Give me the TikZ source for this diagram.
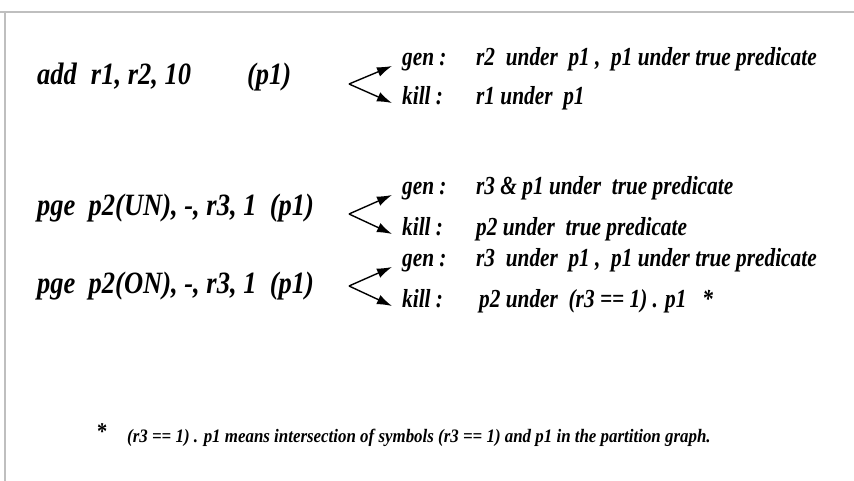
\documentclass[tikz,border=0pt]{standalone}
\usepackage{fontspec}
\setmainfont{Liberation Serif}[FakeStretch=0.85]
\newfontfamily\instrfont{Liberation Serif}[FakeStretch=0.855]
\newfontfamily\genfont{Liberation Serif}[FakeStretch=0.82]
\newfontfamily\notefont{Liberation Serif}[FakeStretch=0.89]
\usetikzlibrary{arrows.meta,positioning}

\tikzset{
  instr/.style={font=\instrfont\fontsize{31}{33}\selectfont\bfseries\itshape, inner sep=0pt, anchor=mid west},
  txt/.style={font=\genfont\fontsize{26}{28}\selectfont\bfseries\itshape, inner sep=0pt, anchor=mid west},
  note/.style={font=\notefont\fontsize{19}{21}\selectfont\bfseries\itshape, inner sep=0pt, anchor=mid west},
  split/.style={-{Latex[length=15pt,width=10pt]}, line width=1.4pt}
}

\begin{document}
\begin{tikzpicture}[x=1pt, y=-1pt]
  \useasboundingbox (0,0) rectangle (854,481);
  % frame edges
  \draw[black!25, line width=1.2pt] (0,12) -- (854,12);
  \draw[black!25, line width=1.2pt] (5,12) -- (5,481);

  % add
  \node[instr] (add) at (37,82) {add\hspace{14pt}r1, r2, 10\hspace{56pt}(p1)};
  \coordinate (v1) at (349,84);
  \node[txt] (gen1) at (402,63) {gen :};
  \node[txt] (kill1) at (402,102) {kill :};
  \node[txt] (gen1t) at (476,63) {r2\ \ under\ \ p1 ,\ \ p1 under true predicate};
  \node[txt] (kill1t) at (476,102) {r1 under\ \ p1};
  \draw[split] (v1) -- ([xshift=-10pt, yshift=-3pt] gen1.mid west);
  \draw[split] (v1) -- ([xshift=-10pt, yshift=-1pt] kill1.mid west);

  % pge (UN)
  \node[instr] (pgeun) at (37,213) {pge\ \ p2(UN), -, r3, 1\ \ (p1)};
  \coordinate (v2) at (349,214);
  \node[txt] (gen2) at (402,192) {gen :};
  \node[txt] (kill2) at (402,233) {kill :};
  \node[txt] (gen2t) at (476,192) {r3 \& p1 under\ \ true predicate};
  \node[txt] (kill2t) at (476,233) {p2 under\ \ true predicate};
  \draw[split] (v2) -- ([xshift=-10pt, yshift=-3pt] gen2.mid west);
  \draw[split] (v2) -- ([xshift=-10pt, yshift=-1pt] kill2.mid west);

  % pge (ON)
  \node[instr] (pgeon) at (37,291) {pge\ \ p2(ON), -, r3, 1\ \ (p1)};
  \coordinate (v3) at (349,286);
  \node[txt] (gen3) at (402,264) {gen :};
  \node[txt] (kill3) at (402,305) {kill :};
  \node[txt] (gen3t) at (476,264) {r3\ \ under\ \ p1 ,\ \ p1 under true predicate};
  \node[txt] (kill3t) at (479,305) {p2 under\ \ (r3 == 1) . p1\ \ \ *};
  \draw[split] (v3) -- ([xshift=-10pt, yshift=-3pt] gen3.mid west);
  \draw[split] (v3) -- ([xshift=-10pt, yshift=-1pt] kill3.mid west);

  % footnote
  \node[txt, font=\fontsize{24}{26}\selectfont\bfseries] (star) at (97,437) {*};
  \node[note] (foot) at (127,440) {(r3 == 1) . p1 means intersection of symbols (r3 == 1) and p1 in the partition graph.};
\end{tikzpicture}
\end{document}
